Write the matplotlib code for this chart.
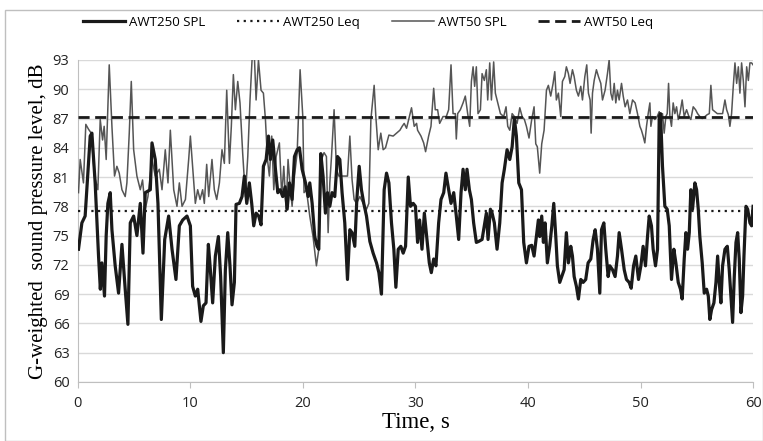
import matplotlib.pyplot as plt
from matplotlib.patches import Rectangle

# AWT250 sound pressure level
t250 = [0.06, 0.36, 0.65, 1.10, 1.25, 1.54, 1.84, 2.00, 2.14, 2.37, 2.52, 2.67, 2.88, 3.03, 3.32,
        3.62, 3.92, 4.21, 4.45, 4.66, 4.96, 5.25, 5.55, 5.79, 5.99, 6.44, 6.59, 6.88, 7.12, 7.42,
        7.72, 8.07, 8.37, 8.72, 9.02, 9.32, 9.70, 10.0, 10.20, 10.44, 10.65, 10.94, 11.15, 11.39,
        11.60, 11.75, 11.98, 12.22, 12.49, 12.69, 12.93, 13.11, 13.32, 13.52, 13.70, 13.91, 14.06,
        14.35, 14.59, 14.80, 15.01, 15.24, 15.45, 15.63, 15.84, 16.07, 16.28, 16.49, 16.73, 16.94,
        17.11, 17.32, 17.56, 17.77, 17.97, 18.21, 18.42, 18.60, 18.80, 19.04, 19.25, 19.49, 19.69,
        19.93, 20.23, 20.46, 20.61, 20.82, 21.05, 21.26, 21.41, 21.59, 21.79, 22.0, 22.18, 22.39,
        22.59, 22.83, 23.07, 23.28, 23.48, 23.72, 23.96, 24.17, 24.37, 24.61, 24.79, 25.0, 25.2,
        25.41, 25.65, 25.95, 26.24, 26.54, 26.75, 26.98, 27.22, 27.43, 27.64, 27.87, 28.08, 28.26,
        28.47, 28.7, 28.91, 29.12, 29.36, 29.56, 29.8, 30.0, 30.19, 30.37, 30.58, 30.79, 31.02,
        31.23, 31.41, 31.62, 31.82, 32.06, 32.27, 32.51, 32.71, 32.95, 33.16, 33.4, 33.63, 33.84,
        34.05, 34.23, 34.43, 34.58, 34.79, 34.97, 35.17, 35.41, 35.62, 35.92, 36.12, 36.3, 36.45,
        36.66, 36.81, 37.01, 37.25, 37.49, 37.7, 37.9, 38.14, 38.38, 38.59, 38.79, 38.97, 39.18,
        39.42, 39.62, 39.86, 40.09, 40.33, 40.54, 40.75, 40.92, 41.04, 41.22, 41.37, 41.52, 41.72,
        41.93, 42.11, 42.29, 42.47, 42.61, 42.82, 43.0, 43.21, 43.41, 43.59, 43.8, 43.95, 44.1,
        44.3, 44.48, 44.69, 44.9, 45.13, 45.34, 45.58, 45.79, 45.97, 46.17, 46.38, 46.53, 46.74,
        46.91, 47.12, 47.27, 47.51, 47.74, 47.95, 48.1, 48.31, 48.55, 48.75, 48.99, 49.17, 49.38,
        49.58, 49.82, 50.03, 50.23, 50.44, 50.62, 50.77, 50.97, 51.12, 51.33, 51.51, 51.66, 51.78,
        51.95, 52.16, 52.37, 52.55, 52.75, 52.96, 53.14, 53.35, 53.55, 53.7, 53.88, 54.03, 54.18,
        54.33, 54.47, 54.62, 54.83, 54.98, 55.13, 55.27, 55.48, 55.66, 55.87, 56.02, 56.16, 56.31,
        56.52, 56.7, 56.85, 56.99, 57.14, 57.29, 57.5, 57.71, 57.88, 58.03, 58.18, 58.33, 58.48,
        58.63, 58.77, 58.92, 59.07, 59.19, 59.37, 59.52, 59.72, 59.87, 60.0]
spl250 = [73.6, 76.3, 77.0, 85.2, 85.5, 80.4, 72.9, 69.5, 72.2, 68.8, 75.0, 78.3, 79.4, 75.6, 71.9,
          69.1, 74.1, 69.5, 65.9, 76.3, 77.0, 75.0, 78.3, 73.2, 79.4, 79.7, 84.5, 82.8, 78.3, 66.4,
          74.6, 77.0, 73.6, 70.5, 76.0, 76.6, 77.0, 76.0, 69.8, 68.8, 69.5, 66.2, 67.8, 68.1,
          74.1, 71.9, 68.1, 72.9, 74.9, 70.8, 63.0, 71.5, 75.3, 71.9, 67.9, 70.2, 78.2,
          78.3, 79.0, 81.1, 78.3, 80.4, 78.3, 76.0, 77.3, 77.0, 76.1, 82.1, 82.8, 85.2,
          82.8, 84.8, 81.8, 79.4, 79.7, 79.0, 80.0, 77.7, 80.4, 78.7, 83.1, 83.8, 84.0,
          81.8, 80.4, 79.0, 80.4, 78.3, 74.9, 73.9, 73.6, 83.4, 81.1, 77.3, 79.4, 78.0,
          79.4, 79.0, 83.1, 82.8, 79.4, 76.3, 70.5, 75.6, 75.3, 73.9, 78.7, 82.1, 79.7,
          78.3, 77.0, 74.4, 73.2, 72.2, 71.2, 69.0, 79.7, 81.4, 80.4, 76.3, 73.6, 69.7,
          73.6, 73.9, 73.2, 73.9, 81.0, 78.0, 78.3, 78.0, 74.3, 76.6, 73.6, 77.3, 74.6,
          72.2, 71.2, 72.6, 71.9, 76.3, 78.7, 79.4, 81.4, 79.7, 78.3, 79.4, 77.0, 74.6,
          79.4, 81.8, 79.7, 81.8, 79.7, 78.7, 76.3, 74.3, 74.4, 74.6, 76.0, 77.3, 74.6,
          77.7, 77.3, 76.3, 73.6, 76.3, 80.4, 81.8, 83.8, 82.8, 84.1, 87.0, 85.2, 80.4,
          79.7, 74.3, 72.2, 73.9, 74.0, 72.9, 74.9, 76.6, 74.9, 77.0, 74.3, 76.3, 72.2,
          73.9, 75.9, 78.3, 74.9, 71.9, 70.2, 70.8, 71.5, 75.3, 72.2, 73.9, 72.9, 70.8,
          69.8, 68.5, 70.5, 70.2, 70.5, 72.2, 72.6, 74.6, 75.6, 73.6, 69.1, 75.6, 76.3,
          73.6, 70.8, 71.9, 71.5, 70.8, 72.9, 75.3, 73.6, 71.5, 70.5, 70.2, 69.6, 71.9,
          72.9, 70.5, 71.9, 73.9, 71.9, 74.9, 77.0, 76.0, 73.6, 71.9, 73.6, 87.2, 87.5,
          82.1, 78.0, 77.7, 76.0, 70.5, 73.6, 72.2, 70.2, 69.5, 68.5, 72.6, 75.3, 73.6,
          75.3, 79.7, 77.7, 80.4, 79.7, 77.7, 74.9, 72.2, 69.1, 69.5, 68.8, 66.4, 67.4,
          68.1, 70.2, 72.9, 70.2, 68.1, 71.9, 73.6, 73.9, 71.5, 68.8, 66.1, 70.8, 74.3,
          75.3, 72.6, 67.1, 68.8, 72.9, 78.0, 77.7, 76.3, 76.0, 78.0]

# AWT50 sound pressure level
t50 = [0.06, 0.21, 0.50, 0.71, 0.95, 1.19, 1.48, 1.78, 1.99, 2.20, 2.34, 2.52, 2.79, 3.03, 3.26,
       3.47, 3.68, 3.92, 4.21, 4.36, 4.57, 4.75, 4.96, 5.25, 5.55, 5.75, 5.99, 6.23, 6.59, 6.88,
       7.24, 7.48, 7.77, 8.01, 8.22, 8.52, 8.81, 9.02, 9.26, 9.56, 9.85, 10.0, 10.2, 10.44, 10.65,
       10.86, 11.09, 11.24, 11.45, 11.63, 11.92, 12.13, 12.34, 12.58, 12.81, 13.02, 13.23, 13.47,
       13.64, 13.82, 14.0, 14.21, 14.41, 14.65, 14.89, 15.1, 15.3, 15.48, 15.69, 15.84, 16.05,
       16.28, 16.49, 16.67, 16.85, 17.02, 17.23, 17.41, 17.62, 17.91, 18.12, 18.3, 18.51, 18.68,
       18.86, 19.04, 19.25, 19.49, 19.75, 19.99, 20.1, 20.31, 20.61, 20.9, 21.2, 21.41, 21.65,
       21.88, 22.09, 22.24, 22.39, 22.54, 22.77, 22.98, 23.19, 23.43, 23.66, 23.96, 24.17, 24.37,
       24.55, 24.76, 25.06, 25.35, 25.65, 25.86, 26.04, 26.33, 26.48, 26.69, 26.92, 27.13, 27.34,
       27.64, 28.02, 28.32, 28.62, 28.82, 29.0, 29.21, 29.42, 29.65, 29.89, 30.1, 30.19, 30.49,
       30.73, 30.9, 31.17, 31.38, 31.62, 31.76, 31.97, 32.15, 32.45, 32.74, 32.95, 33.16, 33.34,
       33.54, 33.63, 33.75, 33.99, 34.23, 34.43, 34.64, 34.82, 34.97, 35.12, 35.26, 35.41, 35.56,
       35.77, 35.92, 36.12, 36.3, 36.42, 36.6, 36.75, 36.95, 37.1, 37.31, 37.55, 37.84, 38.05,
       38.2, 38.38, 38.59, 38.79, 39.03, 39.27, 39.48, 39.68, 39.86, 40.09, 40.33, 40.54, 40.69,
       40.83, 41.04, 41.22, 41.43, 41.64, 41.81, 42.02, 42.23, 42.38, 42.52, 42.7, 42.91, 43.06,
       43.27, 43.41, 43.59, 43.74, 43.95, 44.1, 44.3, 44.48, 44.69, 44.84, 45.05, 45.22, 45.37,
       45.52, 45.61, 45.73, 45.88, 46.08, 46.26, 46.47, 46.62, 46.85, 47.06, 47.21, 47.36, 47.51,
       47.66, 47.8, 47.95, 48.1, 48.31, 48.46, 48.63, 48.84, 49.05, 49.29, 49.52, 49.73, 49.94,
       50.08, 50.23, 50.38, 50.53, 50.68, 50.83, 50.92, 51.06, 51.27, 51.48, 51.66, 51.78, 51.95,
       52.1, 52.25, 52.37, 52.49, 52.61, 52.75, 52.9, 53.05, 53.2, 53.35, 53.5, 53.7, 53.88,
       54.09, 54.3, 54.47, 54.68, 54.89, 55.07, 55.27, 55.48, 55.72, 55.93, 56.11, 56.25, 56.4,
       56.61, 56.82, 57.05, 57.29, 57.5, 57.65, 57.8, 57.94, 58.09, 58.24, 58.39, 58.54, 58.69,
       58.83, 58.98, 59.13, 59.28, 59.43, 59.58, 59.72, 59.87, 60.0]
spl50 = [79.4, 82.8, 80.4, 86.4, 85.9, 85.5, 81.1, 79.7, 86.9, 84.8, 86.2, 82.8, 92.5, 86.2, 81.1,
         82.1, 81.4, 79.7, 79.0, 80.4, 85.5, 90.8, 83.8, 81.1, 79.7, 80.7, 77.7, 79.0, 82.8, 81.1,
         81.8, 79.7, 83.8, 80.4, 85.8, 79.7, 78.0, 80.4, 78.0, 78.7, 82.8, 85.2, 82.1, 78.3, 79.7,
         78.7, 79.7, 78.3, 82.3, 79.0, 82.8, 79.7, 78.7, 80.4, 83.8, 82.4, 89.9, 82.4,
         86.2, 91.5, 87.9, 90.8, 88.6, 83.4, 79.0, 83.1, 88.9, 93.0, 93.3, 88.9, 93.0,
         89.9, 89.6, 86.9, 82.8, 81.1, 85.2, 79.7, 83.1, 84.5, 79.0, 82.1, 77.7, 82.8,
         80.1, 78.0, 81.1, 83.5, 92.0, 87.2, 79.4, 79.7, 77.0, 74.9, 71.9, 73.6, 82.8,
         83.5, 83.1, 75.3, 80.4, 83.1, 87.9, 81.8, 81.1, 81.1, 81.1, 81.1, 85.2, 80.7,
         78.7, 78.3, 79.0, 78.3, 77.7, 78.3, 86.9, 90.4, 87.2, 83.8, 85.5, 83.8, 84.0,
         85.3, 85.2, 85.5, 85.8, 86.2, 86.5, 86.0, 87.0, 88.1, 86.2, 86.5, 85.8, 85.2,
         84.5, 83.6, 85.2, 86.2, 90.1, 87.9, 87.9, 86.5, 87.2, 87.2, 87.9, 92.5, 87.5,
         87.5, 84.9, 87.5, 87.9, 88.6, 89.3, 87.5, 86.2, 90.8, 92.3, 90.3, 92.3, 87.5,
         87.9, 91.6, 90.9, 92.0, 88.9, 92.7, 88.9, 92.8, 89.6, 88.6, 87.5, 87.2, 88.2,
         86.2, 85.8, 87.5, 87.2, 86.5, 88.1, 87.2, 86.9, 86.2, 85.0, 86.9, 88.2, 84.4,
         84.1, 81.4, 84.4, 85.8, 89.9, 90.4, 89.3, 90.6, 91.8, 88.9, 89.6, 87.2, 90.8,
         91.3, 92.3, 91.6, 90.6, 92.0, 91.3, 89.9, 89.3, 90.3, 88.9, 91.3, 92.5, 89.6,
         88.9, 85.5, 89.6, 90.9, 92.0, 91.3, 90.6, 88.9, 89.9, 91.6, 93.0, 89.6, 88.9,
         90.6, 88.6, 89.9, 88.9, 90.6, 89.3, 88.2, 88.9, 87.5, 88.9, 88.6, 87.5, 86.2,
         85.8, 85.2, 84.5, 86.2, 87.5, 88.6, 86.2, 87.2, 86.9, 87.2, 87.7, 86.2, 87.5,
         85.5, 87.2, 87.5, 90.6, 87.2, 86.2, 88.6, 87.5, 88.2, 86.9, 87.5, 88.9, 87.2,
         87.9, 87.2, 86.9, 88.2, 87.9, 87.5, 87.2, 87.0, 87.2, 87.4, 87.5, 90.4, 87.9,
         87.7, 87.5, 87.5, 87.5, 88.9, 87.9, 87.4, 86.2, 87.5, 90.3, 92.7, 90.6, 92.3,
         89.6, 92.7, 90.9, 88.2, 92.3, 90.9, 92.7, 92.7, 92.5]

leq250 = 77.5
leq50 = 87.2

fig = plt.figure(figsize=(7.63, 4.41), dpi=100)
ax = fig.add_axes([0.102, 0.134, 0.885, 0.73])

fig.patches.append(Rectangle((0.007, 0.0), 0.993, 0.977, transform=fig.transFigure,
                             fill=False, edgecolor='#bfbfbf', linewidth=1.0))

ax.plot(t250, spl250, color='#1a1a1a', linewidth=2.3, label='AWT250 SPL', zorder=4)
ax.plot([0, 60], [leq250, leq250], color='#1a1a1a', linestyle=(0, (1, 2)), linewidth=1.6,
        label='AWT250 Leq', zorder=3)
ax.plot(t50, spl50, color='#555555', linewidth=1.1, label='AWT50 SPL', zorder=3)
ax.plot([0, 60], [leq50, leq50], color='#1a1a1a', linestyle=(0, (4, 2)), linewidth=2.0,
        label='AWT50 Leq', zorder=3)

ax.set_xlim(0, 60)
ax.set_ylim(60, 93)
ax.set_xticks(range(0, 61, 10))
ax.set_yticks(range(60, 94, 3))
ax.grid(axis='y', color='#d9d9d9', linewidth=1.0)
ax.set_axisbelow(True)
for s in ['top', 'right']:
    ax.spines[s].set_visible(False)
for s in ['left', 'bottom']:
    ax.spines[s].set_color('#bfbfbf')
ax.tick_params(axis='x', colors='#bfbfbf', labelcolor='#222222', length=4, labelsize=10.5, pad=6)
ax.tick_params(axis='y', length=0, labelcolor='#222222', labelsize=10.5, pad=6)
for lbl in ax.get_xticklabels() + ax.get_yticklabels():
    lbl.set_family('Open Sans')

ax.set_xlabel('Time, s', family='Liberation Serif', fontsize=16.5, labelpad=1)
ax.set_ylabel('G-weighted  sound pressure level, dB', family='Liberation Serif',
              fontsize=15, labelpad=3)

ax.legend(loc='lower center', bbox_to_anchor=(0.43, 1.06), ncol=4, frameon=False,
          prop={'family': 'Open Sans', 'size': 9.5}, handlelength=3.2, columnspacing=2.4,
          handletextpad=0.3)

fig.savefig('out.png', dpi=100)
